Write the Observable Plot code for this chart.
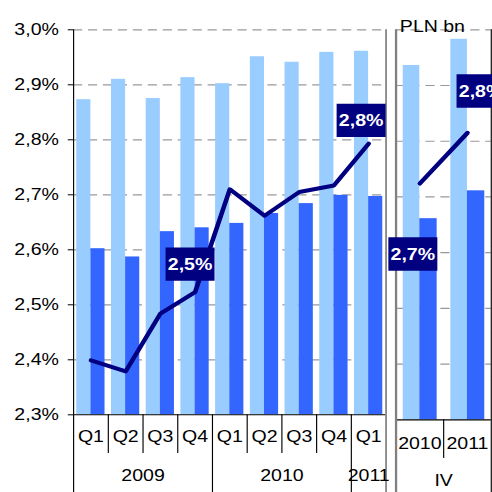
<!DOCTYPE html>
<html>
<head>
<meta charset="utf-8">
<script src="https://cdn.jsdelivr.net/npm/d3@7"></script>
<script src="https://cdn.jsdelivr.net/npm/@observablehq/plot@0.6"></script>
<style>
  html, body { margin: 0; padding: 0; background: #fff; overflow: hidden; }
  #c { position: relative; width: 428px; height: 492px; transform: scaleX(1.15); transform-origin: 0 0; }
  #c svg { position: absolute; top: 0; overflow: visible; }
</style>
</head>
<body>
<div id="c"></div>
<script>
// ---- data ----
const quarters = ["Q1","Q2","Q3","Q4","Q1","Q2","Q3","Q4","Q1"];
const quarterYears = ["2009","2009","2009","2009","2010","2010","2010","2010","2011"];
const lightQ = [2.873, 2.910, 2.875, 2.913, 2.902, 2.951, 2.941, 2.959, 2.961];
const darkQ  = [2.602, 2.587, 2.633, 2.640, 2.648, 2.666, 2.684, 2.699, 2.697];
const rateQ  = [2.399, 2.379, 2.484, 2.523, 2.710, 2.662, 2.705, 2.717, 2.793];

const ivYears = ["2010","2011"];
const ivGroup = "IV";
const lightIV = [2.936, 2.983];
const darkIV  = [2.661, 2.711];
const rateIV  = [2.724, 2.815];

const yTicks = [2.3, 2.4, 2.5, 2.6, 2.7, 2.8, 2.9, 3.0];
const unitLabel = "PLN bn";
const plnTicks = [0, 1, 2, 3, 4, 5, 6, 7, 8, 9];

// ---- helpers ----
const FS = 17;
const fmtPct = v => d3.format(".1f")(v).replace(".", ",") + "%";
const NAVY = "#000080", LIGHT = "#99CCFF", DARK = "#3366FF", GRID = "#999999", BORDER = "#808080";
const y0 = yTicks[0];
const style = { fontFamily: "'Liberation Sans', Arial, sans-serif", fontSize: FS + "px", color: "#000", background: "transparent", overflow: "visible" };
const boxSymbol = { draw(ctx) { ctx.rect(-21.3, -16.7, 42.6, 33.4); } };

const qData = quarters.map((q, i) => ({ i, q, year: quarterYears[i], light: lightQ[i], dark: darkQ[i], rate: rateQ[i] }));
const ivData = ivYears.map((yr, i) => ({ i, q: yr, light: lightIV[i], dark: darkIV[i], rate: rateIV[i] }));

// year groups derived from quarterYears
const yearData = [];
quarterYears.forEach((yr, i) => {
  const last = yearData[yearData.length - 1];
  if (last && last.year === yr) last.end = i + 1; else yearData.push({ year: yr, start: i, end: i + 1 });
});
const yearBounds = yearData.map(d => d.start).filter(v => v > 0);
const quarterBounds = d3.range(1, quarters.length).filter(v => !yearBounds.includes(v));

function tag(d, dx, dy) {
  return [
    Plot.dot([d], { x: e => e.i + 0.5, y: "rate", symbol: boxSymbol, r: 1, fill: NAVY, stroke: null, dx, dy }),
    Plot.text([d], { x: e => e.i + 0.5, y: "rate", text: e => fmtPct(e.rate), fill: "white", fontWeight: "bold", fontSize: FS, dx, dy })
  ];
}

// ---- left panel (quarters) ----
const leftH = 492, leftTop = 29.3, leftBottom = 77.7;
const leftFrameH = leftH - leftTop - leftBottom;
const left = Plot.plot({
  width: 340, height: leftH,
  marginLeft: 63.5, marginRight: 4.8, marginTop: leftTop, marginBottom: leftBottom,
  style,
  x: { domain: [0, quarters.length], axis: null },
  y: { domain: [yTicks[0], yTicks[yTicks.length - 1]], axis: null },
  marks: [
    Plot.ruleY(yTicks.slice(1), { stroke: GRID, strokeWidth: 1.2, strokeDasharray: "8,5" }),
    Plot.rect(qData, { x1: "i", x2: d => d.i + 1, y1: () => y0, y2: "light", fill: LIGHT, insetLeft: 2.8, insetRight: 15.1 }),
    Plot.rect(qData, { x1: "i", x2: d => d.i + 1, y1: () => y0, y2: "dark", fill: DARK, insetLeft: 15.1, insetRight: 2.8 }),
    Plot.ruleY([y0], { stroke: "#000" }),
    Plot.ruleX(quarterBounds, { stroke: "#000", insetTop: leftFrameH, insetBottom: -38.7 }),
    Plot.ruleX(yearBounds, { stroke: "#000", insetTop: leftFrameH, insetBottom: -leftBottom }),
    Plot.ruleX([0], { stroke: "#000", insetBottom: -leftBottom }),
    Plot.ruleX([quarters.length], { stroke: BORDER, strokeWidth: 1.5, insetBottom: -leftBottom }),
    Plot.line(qData, { x: d => d.i + 0.5, y: "rate", stroke: NAVY, strokeWidth: 4, strokeLinejoin: "round", strokeLinecap: "round" }),
    ...tag(qData[3], -4.4, -28),
    ...tag(qData[8], -6.6, -23.3),
    Plot.axisY({ ticks: yTicks, tickFormat: fmtPct, tickSize: 4.6, tickPadding: 8.2, fontSize: FS, label: null, stroke: "#000" }),
    Plot.text(qData, { x: d => d.i + 0.5, text: "q", frameAnchor: "bottom", dy: 27.4, fontSize: FS }),
    Plot.text(yearData, { x: d => (d.start + d.end) / 2, text: "year", frameAnchor: "bottom", dy: 65.7, fontSize: FS })
  ]
});
left.style.left = "0px";

// ---- right panel (IV) ----
const rightTop = 29.3, rightBottom = 72.7;
const rightFrameH = leftH - rightTop - rightBottom;
const rightOpts = { width: 110, height: leftH, marginLeft: 13.9, marginRight: 13.3, marginTop: rightTop, marginBottom: rightBottom, style };
const right = Plot.plot({
  ...rightOpts,
  x: { domain: [0, ivYears.length], axis: null },
  y: { domain: [yTicks[0], yTicks[yTicks.length - 1]], axis: null },
  marks: [
    Plot.ruleY(yTicks.slice(1), { stroke: GRID, strokeWidth: 1.2, strokeDasharray: "8,5" }),
    Plot.rect(ivData, { x1: "i", x2: d => d.i + 1, y1: () => y0, y2: "light", fill: LIGHT, insetLeft: 6.3, insetRight: 20.7 }),
    Plot.rect(ivData, { x1: "i", x2: d => d.i + 1, y1: () => y0, y2: "dark", fill: DARK, insetLeft: 20.7, insetRight: 5.6 }),
    Plot.ruleY([y0], { stroke: "#000", strokeWidth: 1.3 }),
    Plot.ruleX([0], { stroke: BORDER, strokeWidth: 2, insetBottom: -rightBottom }),
    Plot.ruleX(d3.range(1, ivYears.length), { stroke: "#000", insetTop: rightFrameH, insetBottom: -38.7 }),
    Plot.ruleX([ivYears.length], { stroke: "#000", insetBottom: -rightBottom }),
    Plot.line(ivData, { x: d => d.i + 0.5, y: "rate", stroke: NAVY, strokeWidth: 4, strokeLinejoin: "round", strokeLinecap: "round" }),
    ...tag(ivData[0], -6.1, 70.5),
    ...tag(ivData[1], 11.8, -41.8),
    Plot.text(ivData, { x: d => d.i + 0.5, text: "q", frameAnchor: "bottom", dy: 29, fontSize: FS }),
    Plot.text([ivGroup], { x: () => ivYears.length / 2, text: d => d, frameAnchor: "bottom", dy: 66.5, fontSize: FS }),
    Plot.text([unitLabel], { text: d => d, frameAnchor: "top-left", textAnchor: "start", dx: 3.3, dy: -10.3, fontSize: FS })
  ]
});
right.style.left = "330px";

// ---- right value axis (PLN bn), labels fall outside the picture ----
const pln = Plot.plot({
  ...rightOpts,
  y: { domain: [plnTicks[0], plnTicks[plnTicks.length - 1]], axis: null },
  marks: [
    Plot.axisY({ anchor: "right", ticks: plnTicks, tickFormat: () => "", tickSize: 6, label: null, stroke: "#000" })
  ]
});
pln.style.left = "330px";

const c = document.getElementById("c");
c.append(left, right, pln);
</script>
</body>
</html>
